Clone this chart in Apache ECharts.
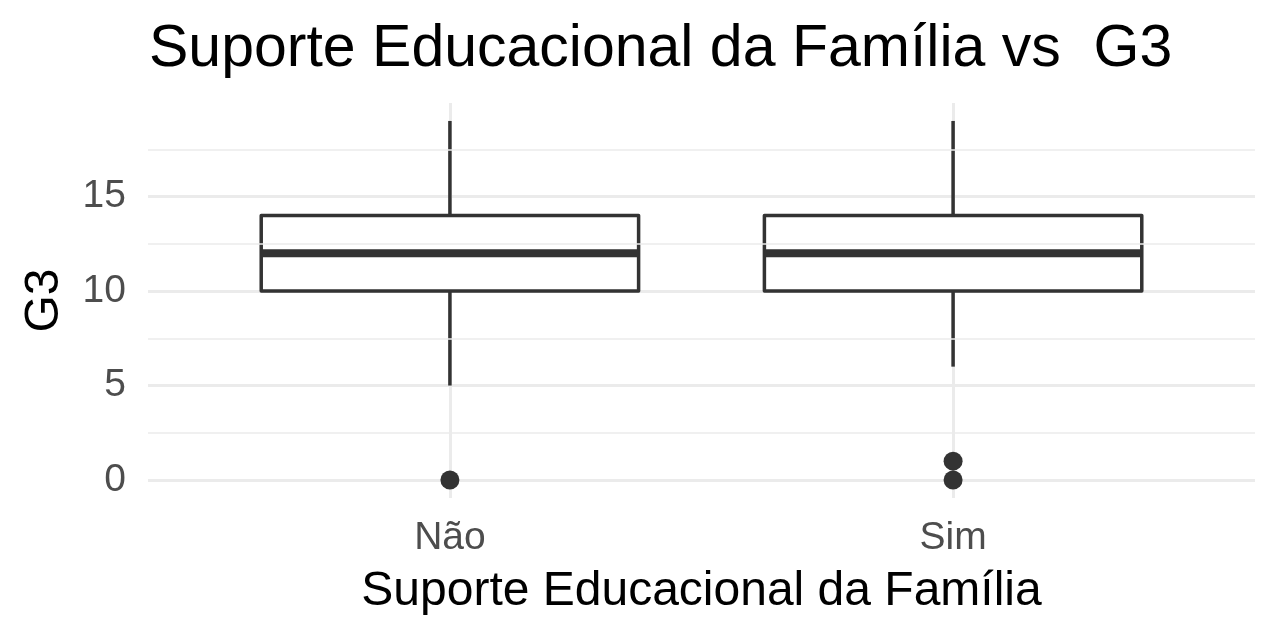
<!DOCTYPE html>
<html>
<head>
<meta charset="utf-8">
<script src="https://cdn.jsdelivr.net/npm/echarts@6/dist/echarts.min.js"></script>
<style>html,body{margin:0;padding:0;background:#fff}#c{width:1280px;height:640px}</style>
</head>
<body>
<div id="c"></div>
<script>
const categories = ['Não', 'Sim'];
const lowerWhisker = [5, 6];
const q1 = [10, 10];
const median = [12, 12];
const q3 = [14, 14];
const upperWhisker = [19, 19];
const outlierCategory = [0, 1, 1];
const outlierValue = [0, 0, 1];
const yTicks = [0, 5, 10, 15];
const yMinorTicks = [2.5, 7.5, 12.5, 17.5];

const FONT = 'Liberation Sans, Arial, sans-serif';
const boxData = categories.map((c, i) => [i + 1, lowerWhisker[i], q1[i], median[i], q3[i], upperWhisker[i]]);
const outlierData = outlierCategory.map((ci, k) => [ci + 1, outlierValue[k]]);

const chart = echarts.init(document.getElementById('c'), null, {renderer: 'canvas'});
chart.setOption({
  animation: false,
  backgroundColor: '#ffffff',
  title: {
    text: 'Suporte Educacional da Família vs  G3',
    left: 144, top: 15,
    textStyle: {fontFamily: FONT, fontSize: 59, fontWeight: 'normal', color: '#000'}
  },
  grid: {left: 148, right: 25, top: 103, bottom: 142},
  xAxis: {
    type: 'value', min: 0.4, max: 2.6,
    name: 'Suporte Educacional da Família', nameLocation: 'middle', nameGap: 70,
    nameTextStyle: {fontFamily: FONT, fontSize: 48, color: '#000'},
    axisLine: {show: false}, axisTick: {show: false, customValues: [1, 2]},
    axisLabel: {customValues: [1, 2], formatter: v => categories[Math.round(v) - 1] || '',
      fontFamily: FONT, fontSize: 39, color: '#4D4D4D', margin: 21},
    splitLine: {show: true, lineStyle: {color: '#EBEBEB', width: 3}}
  },
  yAxis: {
    type: 'value', min: -0.95, max: 19.95,
    name: 'G3', nameLocation: 'middle', nameGap: 79,
    nameTextStyle: {fontFamily: FONT, fontSize: 48, color: '#000'},
    axisLine: {show: false}, axisTick: {show: false, customValues: yTicks},
    axisLabel: {customValues: yTicks, fontFamily: FONT, fontSize: 39, color: '#4D4D4D', margin: 22,
      padding: [6, 0, 0, 0]},
    splitLine: {show: true, lineStyle: {color: '#EBEBEB', width: 3}}
  },
  series: [
    {
      type: 'line', data: [], z: 1, silent: true,
      markLine: {
        silent: true, symbol: 'none', label: {show: false},
        lineStyle: {color: '#EBEBEB', width: 1.5, type: 'solid'},
        data: yMinorTicks.map(v => ({yAxis: v}))
      }
    },
    {
      type: 'custom', z: 3, data: boxData, silent: true,
      renderItem: function (params, api) {
        const x = api.value(0);
        const lo = api.value(1), a = api.value(2), md = api.value(3), b = api.value(4), hi = api.value(5);
        const half = 0.375;
        const tl = api.coord([x - half, b]);
        const br = api.coord([x + half, a]);
        const cHi = api.coord([x, hi]), cB = api.coord([x, b]), cA = api.coord([x, a]), cLo = api.coord([x, lo]);
        const mL = api.coord([x - half, md]), mR = api.coord([x + half, md]);
        const col = '#333333';
        return {
          type: 'group',
          children: [
            {type: 'line', shape: {x1: cHi[0], y1: cHi[1], x2: cB[0], y2: cB[1]}, style: {stroke: col, lineWidth: 3.5}},
            {type: 'line', shape: {x1: cA[0], y1: cA[1], x2: cLo[0], y2: cLo[1]}, style: {stroke: col, lineWidth: 3.5}},
            {type: 'rect', shape: {x: tl[0], y: tl[1], width: br[0] - tl[0], height: br[1] - tl[1]},
              style: {fill: '#ffffff', stroke: col, lineWidth: 3.5, lineJoin: 'round'}},
            {type: 'line', shape: {x1: mL[0], y1: mL[1], x2: mR[0], y2: mR[1]}, style: {stroke: col, lineWidth: 8}}
          ]
        };
      }
    },
    {
      type: 'scatter', z: 4, data: outlierData, symbol: 'circle', symbolSize: 19, silent: true,
      itemStyle: {color: '#333333', opacity: 1}
    }
  ]
});
</script>
</body>
</html>
